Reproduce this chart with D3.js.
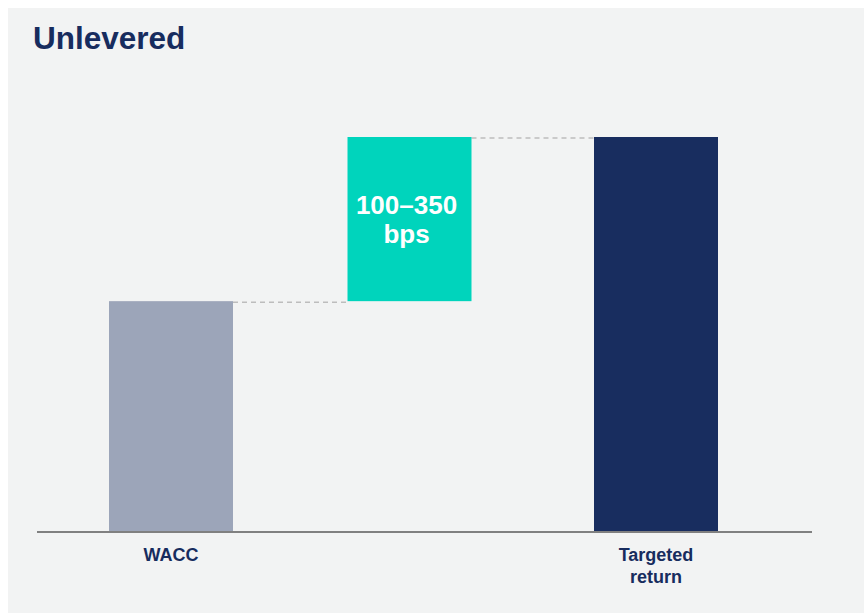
<!DOCTYPE html>
<html>
<head>
<meta charset="utf-8">
<script src="https://cdn.jsdelivr.net/npm/d3@7"></script>
<style>
  body { margin: 0; background: #ffffff; font-family: "Liberation Sans", Arial, sans-serif; }
</style>
</head>
<body>
<svg id="chart" width="864" height="613"></svg>
<script>
// chart data
const categories = ["WACC", "Premium", "Targeted return"];
const barBase = [0, 7, 0];
const barTop = [7, 12, 12];
const barColors = ["#9ca5b9", "#00d4bc", "#182d5f"];
const axisLabels = [["WACC"], [], ["Targeted", "return"]];
const premiumLabel = ["100–350", "bps"];
const title = "Unlevered";

const width = 864;
const height = 613;
const navy = "#172c5e";
// the middle bar sits a little left of an even spacing in the original
const shift = { "Premium": -4 };

const svg = d3.select("#chart");

// panel background
svg.append("rect")
  .attr("x", 8)
  .attr("y", 8)
  .attr("width", width - 8)
  .attr("height", height - 8)
  .attr("fill", "#f2f3f3");

const band = d3.scaleBand()
  .domain(categories)
  .range([49.75, 777.25])
  .paddingInner(0.4887)
  .paddingOuter(0.24435);
const xScale = (d) => band(d) + (shift[d] || 0);

const yScale = d3.scaleLinear()
  .domain([0, 12])
  .range([531, 137]);

// Title
svg.append("text")
  .attr("x", 33)
  .attr("y", 49)
  .style("font-size", "31.5px")
  .style("font-weight", "bold")
  .attr("fill", navy)
  .text(title);

// connector lines (dashed)
for (let i = 0; i < categories.length - 1; i++) {
  const level = barTop[i];
  svg.append("line")
    .attr("x1", xScale(categories[i]) + band.bandwidth())
    .attr("x2", xScale(categories[i + 1]))
    .attr("y1", yScale(level) + 1)
    .attr("y2", yScale(level) + 1)
    .attr("stroke", "#bdbdbd")
    .attr("stroke-width", 1.5)
    .attr("stroke-dasharray", "5,4");
}

// Bars
svg.selectAll("rect.bar")
  .data(categories)
  .enter()
  .append("rect")
  .attr("class", "bar")
  .attr("x", (d) => xScale(d))
  .attr("y", (d, i) => yScale(barTop[i]))
  .attr("width", band.bandwidth())
  .attr("height", (d, i) => yScale(barBase[i]) - yScale(barTop[i]))
  .attr("fill", (d, i) => barColors[i]);

// baseline
svg.append("line")
  .attr("x1", 37)
  .attr("x2", 812)
  .attr("y1", yScale(0) + 1)
  .attr("y2", yScale(0) + 1)
  .attr("stroke", "#808080")
  .attr("stroke-width", 2);

// category labels
categories.forEach((c, i) => {
  const cx = xScale(c) + band.bandwidth() / 2;
  axisLabels[i].forEach((line, j) => {
    svg.append("text")
      .attr("x", cx)
      .attr("y", 561 + j * 21.5)
      .attr("text-anchor", "middle")
      .style("font-size", "18px")
      .style("font-weight", "bold")
      .attr("fill", navy)
      .text(line);
  });
});

// premium label inside teal bar
const pcx = xScale("Premium") + band.bandwidth() / 2 - 3;
premiumLabel.forEach((line, j) => {
  svg.append("text")
    .attr("x", pcx)
    .attr("y", 214 + j * 29)
    .attr("text-anchor", "middle")
    .style("font-size", "26px")
    .style("font-weight", "bold")
    .attr("fill", "#ffffff")
    .text(line);
});
</script>
</body>
</html>
